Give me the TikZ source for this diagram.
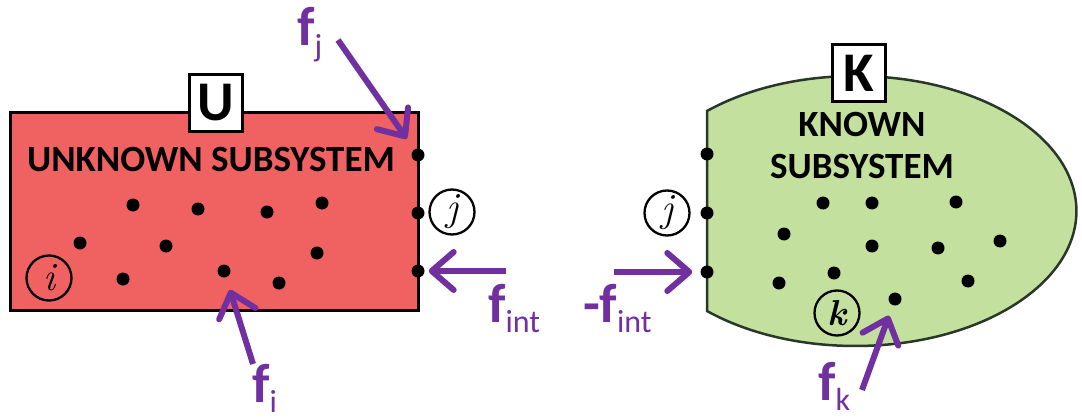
\documentclass[tikz,border=0pt]{standalone}
\usepackage{fontspec}
\newfontfamily\carlito{Carlito}
\usetikzlibrary{arrows.meta}
\definecolor{purp}{RGB}{112,48,160}
\definecolor{redfill}{RGB}{240,98,98}
\definecolor{greenfill}{RGB}{196,224,158}
\definecolor{greenline}{RGB}{40,55,40}
\newcommand\fsub[1]{f{\fontsize{32}{32}\selectfont\mdseries\raisebox{-10pt}{#1}}}
\begin{document}
\begin{tikzpicture}[x=1pt,y=-1pt,
  dot/.style={circle,fill=black,inner sep=0pt,minimum size=13pt},
  lbl/.style={circle,draw=black,line width=2.3pt,minimum size=45pt,inner sep=0pt,font=\fontsize{40}{40}\selectfont\itshape},
  sysbox/.style={draw=black,line width=3pt,fill=white,minimum width=53pt,minimum height=56pt,inner sep=0pt,font=\carlito\bfseries\fontsize{56}{56}\selectfont},
  force/.style={draw=purp,line width=6pt,-{Straight Barb[length=22pt,width=38pt,round]}},
  flbl/.style={text=purp,inner sep=0pt,anchor=base west,font=\carlito\bfseries\fontsize{55}{55}\selectfont},
  title/.style={inner sep=0pt,anchor=base,font=\carlito\bfseries\fontsize{37}{37}\selectfont}
]
\useasboundingbox (0,0) rectangle (1082,420);
% unknown subsystem
\draw[line width=3pt,fill=redfill] (10,112) rectangle (418,310);
% known subsystem
\draw[fill=greenfill,draw=greenline,line width=2.5pt] (707,311) arc[start angle=132.2,end angle=-132.2,x radius=221,y radius=135] -- cycle;

\node[title] (tu) at (211,171) {UNKNOWN SUBSYSTEM};
\node[title] (tk1) at (862,136) {KNOWN};
\node[title] (tk2) at (862,178) {SUBSYSTEM};

\node[sysbox] (U) at (216,103) {U};
\node[sysbox] (K) at (859,73) {K};

% dots in U
\foreach \p [count=\n] in {(133,205),(198,209),(267,212),(322,203),(80,243),(166,246),(317,253),(123,279),(224,271),(279,283)}
  \node[dot] (u\n) at \p {};
\node[dot] (ue1) at (418,155) {};
\node[dot] (ue2) at (418,213) {};
\node[dot] (ue3) at (418,271) {};
% dots in K
\foreach \p [count=\n] in {(823,203),(872,203),(956,202),(784,234),(872,246),(938,248),(1000,241),(779,283),(834,273),(968,281),(895,299)}
  \node[dot] (k\n) at \p {};
\node[dot] (ke1) at (707,154) {};
\node[dot] (ke2) at (707,213) {};
\node[dot] (ke3) at (707,272) {};

% labelled circles
\node[lbl] (ci) at (49,278) {i};
\node[lbl] (cj1) at (452,212) {j};
\node[lbl] (cj2) at (667,213) {j};
\node[lbl,font=\fontsize{36}{36}\selectfont\bfseries\itshape] (ck) at (837,313) {k};

% forces
\coordinate (tfj) at (338,40);
\coordinate (tfi) at (253,364);
\coordinate (tfint) at (506,271);
\coordinate (tmfint) at (614,272);
\coordinate (tfk) at (862,390);
\draw[force,shorten >=13pt] (tfj) -- (ue1);
\draw[force,shorten >=13pt] (tfi) -- (u9);
\draw[force,shorten >=4pt] (tfint) -- (ue3);
\draw[force,shorten >=8pt] (tmfint) -- (ke3);
\draw[force,shorten >=11pt] (tfk) -- (k11);

\node[flbl] (lfj) at (297,46) {\fsub{j}};
\node[flbl] (lfi) at (252,402) {\fsub{i}};
\node[flbl] (lfint) at (488,322) {\fsub{int}};
\node[flbl] (lmfint) at (583,322) {-\fsub{int}};
\node[flbl] (lfk) at (818,400) {\fsub{k}};
\end{tikzpicture}
\end{document}
